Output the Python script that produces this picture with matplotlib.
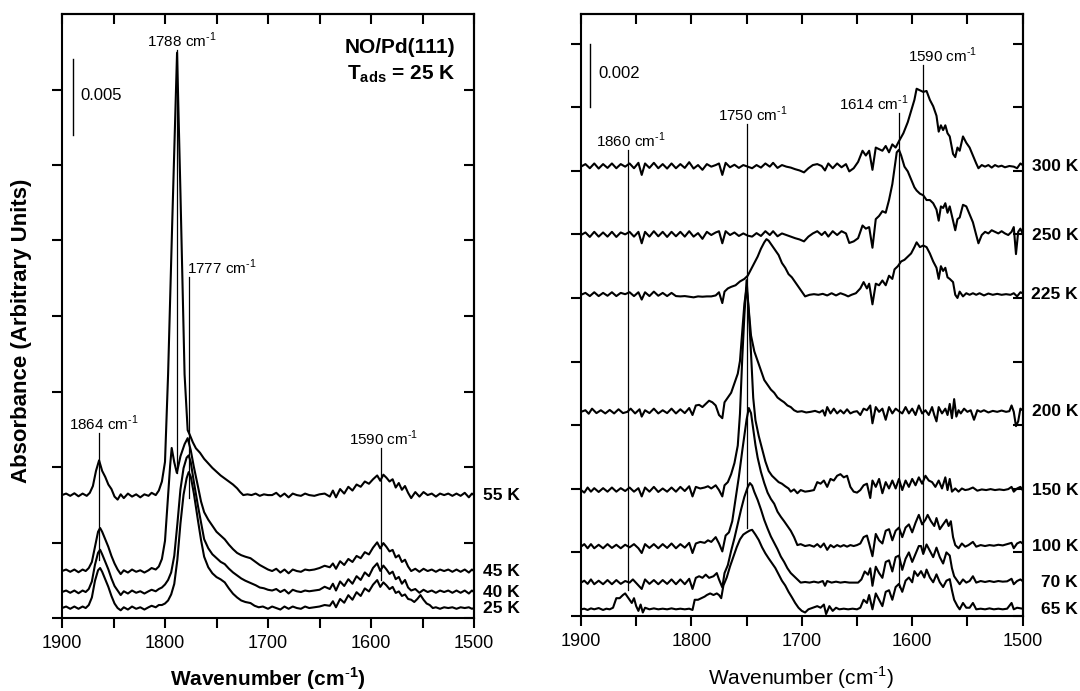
import numpy as np
import matplotlib
matplotlib.use("Agg")
from matplotlib import pyplot as plt

plt.rcParams['font.family'] = ['Liberation Sans', 'DejaVu Sans']
plt.rcParams['mathtext.fontset'] = 'custom'
plt.rcParams['mathtext.rm'] = 'Liberation Sans'
plt.rcParams['mathtext.bf'] = 'Liberation Sans:bold'

# ---- left panel: NO/Pd(111), Tads = 25 K (values in 1e-3 absorbance, relative to each baseline)
left_labels = ["55 K", "45 K", "40 K", "25 K"]
left_offsets = [8.14, 3.11, 1.72, 0.66]

k55 = [(1900,0.0),(1896,0.1),(1892,-0.05),(1888,0.12),(1884,-0.08),(1880,0.1),(1876,-0.05),(1873,0.15),
       (1870,0.6),(1867,1.6),(1864,2.3),(1861,1.6),(1858,1.2),(1855,0.7),(1852,0.4),(1849,-0.1),(1846,-0.3),(1843,0.05),
       (1840,-0.2),(1836,0.1),(1832,-0.1),(1828,0.05),(1824,-0.15),(1820,0.05),(1816,-0.05),(1813,0.15),(1809,0.0),(1806,0.3),
       (1803,0.9),(1800,2.2),(1797,8.0),(1793,18.0),(1788.3,29.3),(1785,20.0),(1781,8.0),(1778,4.3),(1776,4.0),(1773,3.5),
       (1770,3.1),(1766,2.8),(1762,2.4),(1758,2.1),(1754,1.8),(1750,1.55),(1746,1.3),(1742,1.1),(1738,0.9),(1734,0.7),
       (1730,0.45),(1727,0.2),(1724,0.0),(1720,0.05),(1716,0.0),(1712,0.1),(1708,-0.05),(1704,0.05),(1700,0.0),(1696,0.0),
       (1692,0.15),(1688,-0.1),(1684,0.1),(1680,-0.15),(1676,0.1),(1672,0.0),(1668,-0.05),(1664,0.1),(1660,0.0),(1655,-0.05),
       (1650,0.05),(1645,0.1),(1640,-0.1),(1637,0.3),(1634,-0.15),(1630,0.4),(1626,0.1),(1622,0.55),(1618,0.3),(1614,0.7),
       (1610,0.55),(1606,0.9),(1602,0.75),(1598,1.05),(1594,1.3),(1591,0.95),(1588,1.35),(1585,1.15),(1582,0.9),(1579,1.05),
       (1576,0.5),(1573,0.8),(1570,0.35),(1567,0.6),(1564,0.15),(1561,-0.2),(1557,0.2),(1553,-0.1),(1549,0.2),(1545,0.0),
       (1541,0.1),(1537,-0.1),(1533,0.1),(1529,0.0),(1525,0.1),(1521,-0.05),(1517,0.1),(1513,-0.05),(1509,0.15),(1505,-0.15),
       (1502,0.1),(1500,0.0)]

k45 = [(1900,0.0),(1896,0.1),(1892,-0.05),(1888,0.1),(1884,-0.08),(1880,0.1),(1877,0.0),(1874,0.2),(1871,0.6),(1868,1.6),
       (1865,2.6),(1863,2.85),(1861,2.6),(1858,2.1),(1855,1.6),(1852,1.0),(1849,0.5),(1846,0.1),(1843,-0.2),(1840,0.05),
       (1836,-0.1),(1832,0.1),(1828,-0.05),(1824,0.05),(1820,-0.1),(1816,0.05),(1813,0.2),(1809,0.1),(1806,0.3),(1803,0.8),
       (1800,2.0),(1797,5.0),(1795,7.0),(1793.5,8.15),(1791,7.2),(1788.5,6.5),(1785,7.6),(1781,8.4),(1778,8.8),(1775,8.0),
       (1772,6.9),(1768,5.6),(1765,4.6),(1762,3.9),(1758,3.4),(1754,3.0),(1750,2.6),(1746,2.35),(1742,2.1),(1738,1.75),
       (1734,1.45),(1730,1.2),(1726,1.05),(1722,0.95),(1717,0.85),(1712,0.6),(1708,0.4),(1704,0.25),(1700,0.1),(1696,0.0),
       (1692,0.15),(1688,-0.1),(1684,0.1),(1680,-0.15),(1676,0.1),(1672,0.0),(1668,-0.05),(1664,0.1),(1660,0.05),(1655,0.1),
       (1650,0.2),(1645,0.35),(1640,0.25),(1637,0.5),(1634,0.15),(1630,0.65),(1626,0.4),(1622,0.8),(1618,0.6),(1614,1.0),
       (1610,0.85),(1606,1.25),(1602,1.1),(1598,1.55),(1594,1.9),(1591,1.5),(1588,1.85),(1585,1.6),(1582,1.3),(1579,1.4),
       (1576,0.9),(1573,1.05),(1570,0.6),(1567,0.75),(1564,0.3),(1561,0.0),(1557,0.15),(1553,-0.05),(1549,0.15),(1545,0.0),
       (1541,0.1),(1537,-0.05),(1533,0.1),(1529,0.0),(1525,0.1),(1521,-0.05),(1517,0.1),(1513,-0.05),(1509,0.1),(1505,-0.1),
       (1502,0.1),(1500,0.0)]

k40 = [(1900,0.0),(1896,0.1),(1892,-0.05),(1888,0.1),(1884,-0.08),(1880,0.1),(1877,0.0),(1874,0.2),(1871,0.7),(1868,1.8),
       (1865,2.6),(1863,2.8),(1861,2.5),(1858,2.0),(1855,1.5),(1852,0.9),(1849,0.4),(1846,0.1),(1843,-0.2),(1840,0.05),
       (1836,-0.1),(1832,0.1),(1828,-0.05),(1824,0.05),(1820,-0.1),(1816,0.05),(1813,0.15),(1809,0.05),(1806,0.2),(1803,0.3),
       (1800,0.5),(1797,0.8),(1794,1.3),(1791,2.4),(1788,4.5),(1785,6.8),(1782,8.2),(1779,8.9),(1777,9.05),(1775,8.6),
       (1772,7.3),(1768,5.7),(1765,4.6),(1762,3.5),(1758,2.9),(1754,2.5),(1750,2.25),(1746,2.0),(1742,1.85),(1738,1.55),
       (1734,1.3),(1730,1.1),(1726,0.9),(1722,0.75),(1717,0.6),(1712,0.45),(1708,0.3),(1704,0.25),(1700,0.15),(1696,0.1),
       (1692,0.2),(1688,0.0),(1684,0.15),(1680,-0.1),(1676,0.15),(1672,0.05),(1668,0.0),(1664,0.1),(1660,0.05),(1655,0.1),
       (1650,0.15),(1645,0.35),(1640,0.2),(1637,0.55),(1634,0.1),(1630,0.7),(1626,0.4),(1622,0.85),(1618,0.55),(1614,1.05),
       (1610,0.8),(1606,1.3),(1602,1.05),(1598,1.6),(1594,1.9),(1591,1.4),(1588,1.75),(1585,1.5),(1582,1.2),(1579,1.35),
       (1576,0.85),(1573,1.0),(1570,0.55),(1567,0.8),(1564,0.3),(1561,0.1),(1557,0.2),(1553,-0.05),(1549,0.15),(1545,0.0),
       (1541,0.1),(1537,-0.05),(1533,0.1),(1529,0.0),(1525,0.1),(1521,-0.05),(1517,0.1),(1513,-0.05),(1509,0.1),(1505,-0.1),
       (1502,0.1),(1500,0.0)]

k25 = [(1900,0.0),(1896,0.1),(1892,-0.05),(1888,0.1),(1884,-0.05),(1880,0.1),(1877,0.0),(1874,0.2),(1871,0.7),(1868,1.8),
       (1865,2.5),(1863,2.65),(1861,2.4),(1858,1.9),(1855,1.4),(1852,0.8),(1849,0.3),(1846,0.0),(1843,-0.15),(1840,0.05),
       (1836,-0.1),(1832,0.1),(1828,-0.05),(1824,0.05),(1820,-0.1),(1816,0.05),(1813,0.15),(1809,0.05),(1806,0.2),(1803,0.2),
       (1800,0.3),(1797,0.5),(1794,0.9),(1791,1.6),(1788,3.2),(1785,5.6),(1782,7.5),(1779,8.6),(1777,9.0),(1775,8.7),
       (1772,7.6),(1768,5.8),(1765,4.5),(1762,3.4),(1758,2.7),(1754,2.3),(1750,2.05),(1746,1.9),(1742,1.7),(1738,1.3),
       (1734,0.95),(1730,0.7),(1726,0.5),(1722,0.4),(1717,0.33),(1713,0.15),(1709,0.05),(1705,0.1),(1700,-0.05),(1696,0.1),
       (1692,0.0),(1688,-0.1),(1684,0.1),(1680,-0.05),(1676,0.1),(1672,0.0),(1668,-0.05),(1664,0.1),(1660,0.0),(1655,0.05),
       (1650,0.1),(1645,0.2),(1640,0.15),(1637,0.45),(1634,0.05),(1630,0.6),(1626,0.35),(1622,0.85),(1618,0.55),(1614,1.05),
       (1610,0.8),(1606,1.3),(1602,1.1),(1598,1.55),(1594,1.85),(1591,1.4),(1588,1.7),(1585,1.5),(1582,1.25),(1579,1.4),
       (1576,1.0),(1573,1.1),(1570,0.8),(1567,0.9),(1564,0.6),(1561,0.55),(1558,0.4),(1555,0.6),(1552,0.86),(1549,0.55),
       (1546,0.3),(1543,0.2),(1540,0.0),(1537,0.05),(1533,-0.05),(1529,0.05),(1525,0.0),(1521,0.05),(1517,-0.05),(1513,0.05),
       (1509,0.0),(1505,0.05),(1502,-0.05),(1500,0.0)]

left_spectra = [k55, k45, k40, k25]

# peak markers: position, label, line top and bottom
left_mark_wn = [1864, 1788.3, 1777, 1590]
left_mark_text = [r"1864 cm$^{\text{-}1}$", r"1788 cm$^{\text{-}1}$", r"1777 cm$^{\text{-}1}$", r"1590 cm$^{\text{-}1}$"]
left_mark_top = [12.25, 37.6, 22.6, 11.25]
left_mark_bottom = [3.84, 9.6, 7.94, 2.5]

# ---- right panel: annealing series
right_labels = ["300 K", "250 K", "225 K", "200 K", "150 K", "100 K", "70 K", "65 K"]
right_offsets = [14.13, 11.98, 10.1, 6.42, 3.96, 2.18, 1.05, 0.21]

k300 = [(1900,0.0),(1896,0.08),(1892,-0.05),(1888,0.1),(1884,-0.06),(1880,0.08),(1876,-0.04),(1872,0.1),(1868,-0.05),(1864,0.08),
        (1860,0.0),(1856,0.1),(1852,-0.05),(1848,0.12),(1845,-0.26),(1842,0.1),(1838,-0.04),(1834,0.12),(1830,-0.05),(1826,0.08),
        (1822,-0.06),(1818,0.1),(1814,-0.05),(1810,0.08),(1806,-0.04),(1802,0.14),(1798,-0.06),(1794,0.05),(1790,-0.1),(1786,0.08),
        (1782,0.0),(1778,0.05),(1775,0.1),(1772,-0.26),(1769,0.12),(1765,-0.02),(1761,0.06),(1757,-0.04),(1753,0.05),(1749,0.0),
        (1745,-0.05),(1741,0.05),(1737,-0.03),(1733,0.1),(1729,0.0),(1726,0.12),(1722,-0.04),(1718,0.05),(1714,0.0),(1710,-0.03),
        (1706,-0.08),(1702,-0.12),(1698,-0.18),(1694,-0.05),(1690,0.05),(1686,0.08),(1682,0.02),(1679,-0.12),(1676,0.1),(1672,-0.05),
        (1668,0.1),(1664,-0.02),(1660,0.08),(1657,-0.15),(1653,-0.05),(1649,0.15),(1645,0.5),(1642,0.35),(1639,0.5),(1636,-0.1),
        (1633,0.6),(1630,0.55),(1627,0.5),(1624,0.65),(1621,0.45),(1618,0.7),(1615,0.6),(1612,0.8),(1608,1.05),(1604,1.4),
        (1601,1.75),(1598,2.1),(1596,2.45),(1593,2.4),(1590,2.35),(1587,2.38),(1584,2.1),(1581,1.9),(1578,1.6),(1576,1.1),
        (1574,1.3),(1572,1.15),(1570,1.3),(1568,1.05),(1566,0.95),(1563,0.4),(1561,0.3),(1559,0.6),(1557,0.5),(1554,0.95),
        (1551,0.75),(1548,0.6),(1545,0.35),(1542,0.1),(1540,-0.05),(1537,0.05),(1534,0.0),(1531,0.05),(1528,-0.03),(1525,0.05),
        (1522,0.0),(1519,0.03),(1516,-0.02),(1512,0.02),(1508,0.0),(1505,-0.05),(1502,0.1),(1500,0.05)]

k250 = [(1900,0.0),(1896,0.08),(1892,-0.06),(1888,0.1),(1884,-0.05),(1880,0.08),(1876,-0.05),(1872,0.1),(1868,-0.06),(1864,0.08),
        (1860,0.02),(1856,0.1),(1852,-0.05),(1848,0.1),(1845,-0.26),(1842,0.1),(1838,-0.05),(1834,0.12),(1830,-0.04),(1826,0.1),
        (1822,-0.06),(1818,0.1),(1814,-0.04),(1810,0.1),(1806,-0.05),(1802,0.12),(1798,-0.05),(1794,0.06),(1790,-0.12),(1786,0.1),
        (1782,0.0),(1778,0.08),(1775,0.12),(1772,-0.26),(1769,0.12),(1765,0.0),(1761,0.08),(1757,-0.03),(1753,0.05),(1749,-0.02),
        (1745,-0.05),(1741,0.06),(1737,-0.03),(1733,0.12),(1729,0.0),(1726,0.12),(1722,-0.04),(1718,0.05),(1714,0.0),(1710,-0.05),
        (1706,-0.1),(1702,-0.14),(1698,-0.2),(1694,-0.05),(1690,0.05),(1686,0.12),(1682,0.0),(1679,0.1),(1676,-0.05),(1672,0.12),
        (1668,0.0),(1664,0.12),(1660,0.05),(1657,-0.25),(1653,-0.2),(1649,-0.1),(1645,0.3),(1642,0.2),(1639,0.25),(1636,-0.4),
        (1633,0.5),(1630,0.6),(1627,0.75),(1624,0.7),(1621,1.1),(1618,1.6),(1616,2.1),(1614,2.6),(1612,2.68),(1610,2.5),
        (1607,2.15),(1604,2.0),(1601,1.75),(1598,1.5),(1596,1.4),(1593,1.3),(1590,1.25),(1587,1.1),(1584,1.1),(1581,1.0),
        (1578,0.8),(1576,0.45),(1574,0.9),(1572,0.85),(1570,1.0),(1568,0.7),(1566,0.9),(1563,0.45),(1561,0.15),(1559,0.5),
        (1557,0.55),(1554,0.95),(1551,0.9),(1548,0.65),(1545,0.4),(1542,0.0),(1540,-0.26),(1537,0.0),(1534,0.1),(1531,0.05),
        (1528,0.15),(1525,0.1),(1522,0.05),(1519,0.12),(1516,0.05),(1513,0.0),(1510,0.1),(1508,0.25),(1506,-0.6),(1504,0.1),
        (1502,0.2),(1500,0.05)]

k225 = [(1900,0.0),(1896,0.06),(1892,-0.04),(1888,0.08),(1884,-0.04),(1880,0.06),(1876,-0.03),(1872,0.08),(1868,-0.04),(1864,0.06),
        (1860,0.02),(1856,0.08),(1852,-0.04),(1848,0.08),(1845,-0.15),(1842,0.08),(1838,-0.04),(1834,0.1),(1830,-0.03),(1826,0.06),
        (1822,-0.04),(1818,0.06),(1814,-0.04),(1810,-0.05),(1806,-0.04),(1802,-0.06),(1798,-0.08),(1794,-0.05),(1790,-0.06),(1786,-0.05),
        (1782,-0.05),(1778,-0.02),(1775,0.08),(1772,-0.26),(1770,0.1),(1767,0.2),(1764,0.25),(1760,0.3),(1756,0.42),(1752,0.5),
        (1749,0.6),(1746,0.8),(1743,1.0),(1740,1.2),(1737,1.45),(1734,1.65),(1732,1.75),(1730,1.7),(1727,1.55),(1724,1.4),
        (1721,1.25),(1718,1.0),(1715,0.85),(1712,0.65),(1709,0.55),(1706,0.4),(1703,0.25),(1700,0.1),(1697,-0.05),(1693,0.0),
        (1689,0.02),(1685,0.0),(1681,0.03),(1677,-0.02),(1673,0.05),(1669,-0.02),(1665,0.05),(1661,0.0),(1658,-0.05),(1655,0.0),
        (1651,0.05),(1647,0.2),(1644,0.4),(1641,0.2),(1639,0.35),(1636,-0.3),(1633,0.35),(1630,0.3),(1627,0.45),(1624,0.3),
        (1621,0.6),(1618,0.5),(1616,0.8),(1613,0.9),(1610,1.05),(1607,1.1),(1604,1.2),(1601,1.3),(1598,1.5),(1596,1.65),
        (1593,1.5),(1590,1.55),(1587,1.5),(1584,1.3),(1581,1.05),(1578,0.85),(1576,0.5),(1574,0.9),(1572,0.75),(1570,0.85),
        (1568,0.55),(1566,0.5),(1563,0.4),(1561,0.0),(1559,-0.1),(1557,0.1),(1554,-0.05),(1551,0.05),(1548,0.0),(1545,0.05),
        (1542,0.0),(1539,0.05),(1535,-0.02),(1531,0.04),(1527,0.0),(1523,0.03),(1519,0.0),(1515,0.02),(1511,0.0),(1508,0.05),
        (1505,-0.05),(1502,0.08),(1500,0.05)]

k200 = [(1900,0.0),(1896,0.05),(1893,-0.06),(1890,0.1),(1886,-0.04),(1882,0.05),(1878,-0.05),(1874,0.06),(1870,-0.05),(1866,0.08),
        (1862,-0.04),(1858,0.0),(1855,0.1),(1851,-0.05),(1847,0.08),(1845,-0.15),(1842,0.05),(1838,-0.04),(1834,0.1),(1830,-0.05),
        (1826,0.05),(1822,-0.04),(1818,0.1),(1814,-0.05),(1810,0.08),(1806,-0.04),(1802,0.12),(1799,-0.1),(1796,0.2),(1793,0.22),
        (1790,0.15),(1787,0.25),(1784,0.35),(1781,0.3),(1778,0.2),(1775,-0.1),(1772,-0.2),(1770,0.3),(1767,0.45),(1764,0.6),
        (1761,0.9),(1758,1.2),(1756,1.6),(1754,2.5),(1752,3.4),(1750,3.9),(1748,3.2),(1746,2.4),(1743,1.9),(1740,1.6),
        (1737,1.3),(1734,1.0),(1731,0.85),(1728,0.7),(1725,0.6),(1722,0.45),(1719,0.37),(1716,0.3),(1713,0.2),(1710,0.15),
        (1707,0.05),(1704,0.0),(1700,0.02),(1696,-0.02),(1692,0.0),(1688,0.03),(1684,-0.02),(1681,0.05),(1679,-0.12),(1677,0.15),
        (1674,-0.05),(1671,0.1),(1668,-0.05),(1665,0.05),(1662,-0.05),(1659,0.08),(1656,-0.05),(1653,0.0),(1650,0.02),(1647,-0.1),
        (1644,0.1),(1641,0.05),(1638,0.2),(1636,-0.36),(1633,0.15),(1630,0.0),(1627,0.1),(1624,-0.25),(1621,0.15),(1618,-0.05),
        (1615,0.1),(1612,0.02),(1609,-0.05),(1606,0.15),(1603,-0.05),(1600,0.1),(1597,-0.1),(1594,0.2),(1591,-0.05),(1588,0.05),
        (1585,-0.1),(1582,0.15),(1580,-0.1),(1578,-0.3),(1576,0.15),(1573,-0.05),(1570,0.1),(1568,-0.1),(1566,0.25),(1564,-0.2),
        (1562,0.4),(1560,-0.15),(1558,0.05),(1556,-0.05),(1553,0.1),(1550,0.0),(1547,0.05),(1544,-0.25),(1541,0.05),(1538,0.0),
        (1535,0.05),(1531,-0.02),(1527,0.03),(1523,0.0),(1519,0.04),(1515,0.0),(1512,0.02),(1510,0.2),(1508,0.0),(1506,-0.45),
        (1504,-0.3),(1502,0.1),(1500,0.05)]

k150 = [(1900,0.0),(1897,-0.08),(1894,0.08),(1891,-0.05),(1888,0.06),(1884,-0.06),(1880,0.06),(1876,-0.05),(1872,0.08),(1868,-0.05),
        (1864,0.06),(1860,-0.03),(1856,0.08),(1852,-0.05),(1848,0.06),(1845,-0.2),(1842,0.08),(1838,-0.05),(1834,0.1),(1830,-0.06),
        (1826,0.05),(1822,-0.05),(1818,0.08),(1814,-0.05),(1810,0.1),(1806,-0.03),(1802,0.12),(1799,-0.2),(1796,0.1),(1792,0.05),
        (1788,0.08),(1785,0.12),(1782,0.05),(1778,0.15),(1775,0.0),(1772,-0.2),(1770,0.15),(1767,0.25),(1764,0.5),(1761,0.85),
        (1758,1.4),(1756,2.4),(1754,4.1),(1752,5.5),(1750,6.6),(1748,5.6),(1746,4.3),(1744,2.9),(1742,2.2),(1739,1.7),
        (1736,1.3),(1733,0.9),(1730,0.6),(1727,0.45),(1724,0.35),(1721,0.25),(1718,0.2),(1715,0.12),(1712,0.05),(1710,-0.05),
        (1707,0.02),(1704,-0.1),(1701,0.0),(1697,-0.05),(1693,-0.03),(1689,0.0),(1686,0.25),(1683,0.2),(1680,0.3),(1677,0.1),
        (1674,0.35),(1671,0.3),(1668,0.45),(1665,0.5),(1662,0.4),(1659,0.45),(1656,0.1),(1653,-0.05),(1650,-0.08),(1647,0.0),
        (1644,0.15),(1641,0.2),(1638,-0.25),(1636,0.3),(1633,0.1),(1630,0.35),(1627,-0.1),(1624,0.25),(1621,0.05),(1618,0.3),
        (1615,0.05),(1612,0.35),(1609,0.0),(1606,0.3),(1603,0.1),(1600,0.35),(1597,0.15),(1594,0.4),(1591,0.2),(1588,0.45),
        (1585,0.3),(1582,0.25),(1579,0.1),(1576,0.3),(1573,0.05),(1570,0.4),(1568,0.0),(1566,0.35),(1564,-0.05),(1561,0.05),
        (1558,-0.05),(1555,0.05),(1552,0.0),(1549,0.02),(1545,0.08),(1541,-0.02),(1537,0.02),(1533,0.0),(1529,0.03),(1525,0.0),
        (1521,0.02),(1517,0.0),(1513,0.03),(1510,0.1),(1508,-0.05),(1505,0.05),(1502,0.1),(1500,0.0)]

k100 = [(1900,0.0),(1897,0.08),(1894,-0.05),(1891,0.08),(1888,-0.05),(1884,0.06),(1880,-0.05),(1876,0.08),(1872,-0.04),(1868,0.06),
        (1864,-0.05),(1860,0.06),(1856,-0.02),(1852,0.08),(1848,-0.05),(1845,-0.2),(1842,0.08),(1838,-0.04),(1834,0.08),(1830,-0.05),
        (1826,0.08),(1822,-0.04),(1818,0.1),(1814,-0.05),(1810,0.08),(1806,-0.03),(1802,0.12),(1799,-0.2),(1796,0.1),(1792,0.15),
        (1788,0.12),(1785,0.2),(1782,0.15),(1778,0.3),(1775,0.1),(1772,-0.15),(1769,0.35),(1766,0.45),(1763,0.8),(1760,1.5),
        (1757,2.2),(1754,3.0),(1752,3.5),(1750,4.0),(1748,4.36),(1746,4.2),(1744,3.7),(1742,3.2),(1740,2.8),(1737,2.35),
        (1734,2.0),(1731,1.7),(1728,1.5),(1725,1.35),(1722,1.1),(1719,0.94),(1716,0.8),(1713,0.65),(1710,0.5),(1707,0.3),
        (1704,0.05),(1701,0.08),(1697,0.02),(1693,0.05),(1689,0.0),(1686,0.08),(1683,-0.02),(1680,0.1),(1677,-0.1),(1674,0.05),
        (1671,-0.02),(1668,0.05),(1665,0.0),(1662,0.05),(1659,0.0),(1656,0.05),(1653,0.02),(1650,0.05),(1647,0.1),(1644,0.3),
        (1641,0.35),(1639,0.1),(1636,-0.3),(1633,0.4),(1630,0.2),(1627,0.1),(1624,0.5),(1621,0.55),(1618,0.2),(1615,0.5),
        (1612,0.6),(1609,0.3),(1606,0.6),(1603,0.7),(1600,0.45),(1597,0.75),(1594,1.0),(1591,0.7),(1588,0.85),(1586,1.0),
        (1583,0.8),(1580,0.65),(1578,0.9),(1575,0.55),(1572,0.7),(1569,0.85),(1567,0.65),(1565,0.8),(1563,0.3),(1561,0.05),
        (1558,-0.05),(1555,0.1),(1552,0.0),(1549,0.05),(1545,0.15),(1542,0.0),(1538,0.05),(1534,0.02),(1530,0.05),(1526,0.03),
        (1522,0.06),(1518,0.04),(1514,0.08),(1510,0.12),(1508,-0.05),(1505,0.1),(1502,0.15),(1500,0.1)]

k70 = [(1900,0.0),(1897,0.06),(1894,-0.04),(1891,0.1),(1888,-0.05),(1884,0.06),(1880,-0.05),(1876,0.08),(1872,-0.05),(1868,0.08),
       (1864,-0.04),(1860,0.05),(1856,0.0),(1853,0.1),(1849,-0.05),(1845,-0.2),(1842,0.1),(1838,-0.04),(1834,0.08),(1830,-0.05),
       (1826,0.08),(1822,-0.04),(1818,0.1),(1814,-0.05),(1810,0.1),(1806,-0.05),(1802,0.12),(1799,-0.2),(1796,0.15),(1793,0.2),
       (1790,0.15),(1787,0.25),(1784,0.15),(1780,0.2),(1777,0.3),(1775,0.1),(1772,-0.15),(1770,0.3),(1767,0.55),(1764,1.0),
       (1761,1.4),(1758,1.85),(1755,2.3),(1752,2.7),(1749,3.0),(1747,3.13),(1745,3.05),(1743,2.85),(1740,2.6),(1737,2.3),
       (1734,1.97),(1731,1.7),(1728,1.45),(1725,1.25),(1722,1.05),(1719,0.82),(1716,0.65),(1713,0.45),(1710,0.3),(1707,0.2),
       (1704,0.1),(1701,0.0),(1697,0.02),(1693,0.0),(1689,0.03),(1685,0.0),(1681,0.05),(1679,-0.1),(1677,0.05),(1673,0.0),
       (1669,0.03),(1665,0.0),(1661,0.02),(1657,0.0),(1653,0.0),(1649,0.0),(1646,0.1),(1643,0.35),(1640,0.25),(1638,0.45),
       (1636,-0.1),(1633,0.5),(1630,0.3),(1627,0.15),(1624,0.65),(1621,0.7),(1618,0.35),(1615,0.8),(1612,0.85),(1609,0.4),
       (1606,0.75),(1603,0.95),(1600,0.65),(1597,0.9),(1594,1.15),(1592,1.15),(1590,0.9),(1587,1.2),(1584,1.0),(1581,0.8),
       (1578,1.1),(1575,0.8),(1572,0.6),(1569,0.95),(1566,0.85),(1564,0.45),(1562,0.2),(1559,0.05),(1557,-0.05),(1554,0.1),
       (1551,0.0),(1548,0.05),(1545,0.2),(1542,0.0),(1538,0.05),(1534,0.02),(1530,0.05),(1526,0.02),(1522,0.05),(1518,0.03),
       (1514,0.04),(1510,0.12),(1508,-0.05),(1505,0.05),(1502,0.1),(1500,0.05)]

k65 = [(1900,0.0),(1897,0.02),(1894,-0.02),(1891,0.03),(1888,0.0),(1884,0.04),(1880,-0.02),(1877,0.02),(1874,0.0),(1871,0.05),
       (1868,0.35),(1865,0.35),(1862,0.45),(1860,0.5),(1858,0.4),(1856,0.3),(1854,0.2),(1852,0.35),(1850,0.1),(1848,-0.05),
       (1846,0.15),(1844,-0.1),(1842,0.05),(1838,0.0),(1834,0.03),(1830,0.0),(1826,0.02),(1822,0.0),(1818,0.03),(1814,0.0),
       (1810,0.02),(1806,0.0),(1802,0.02),(1799,-0.02),(1797,0.3),(1794,0.3),(1791,0.35),(1788,0.4),(1786,0.45),(1783,0.5),
       (1780,0.45),(1777,0.5),(1775,0.45),(1773,0.35),(1771,0.75),(1768,1.0),(1765,1.35),(1762,1.65),(1759,1.95),(1756,2.2),
       (1753,2.35),(1750,2.42),(1747,2.48),(1745,2.5),(1742,2.35),(1739,2.18),(1736,1.95),(1733,1.76),(1730,1.6),(1727,1.45),
       (1724,1.3),(1721,1.1),(1718,0.9),(1715,0.75),(1712,0.55),(1709,0.38),(1706,0.2),(1703,0.05),(1700,-0.05),(1697,-0.1),
       (1694,0.0),(1690,0.05),(1686,0.1),(1683,0.05),(1680,0.15),(1678,-0.15),(1675,0.1),(1672,-0.05),(1669,0.05),(1666,0.0),
       (1662,0.02),(1658,0.0),(1654,0.02),(1650,0.0),(1647,0.05),(1644,0.3),(1641,0.2),(1639,0.45),(1636,0.0),(1633,0.5),
       (1630,0.3),(1627,0.1),(1624,0.55),(1621,0.6),(1618,0.3),(1615,0.7),(1612,0.8),(1609,0.55),(1606,0.9),(1603,1.0),
       (1600,0.85),(1598,1.2),(1595,1.05),(1592,1.2),(1589,1.0),(1587,1.25),(1584,1.0),(1581,0.85),(1578,1.1),(1575,0.85),
       (1572,0.7),(1569,0.9),(1566,0.95),(1564,0.6),(1562,0.3),(1559,0.1),(1557,0.0),(1554,0.2),(1551,0.05),(1548,0.05),
       (1545,0.2),(1542,0.0),(1538,0.02),(1534,0.0),(1530,0.03),(1526,0.0),(1522,0.02),(1518,0.0),(1514,0.02),(1510,0.2),
       (1508,0.0),(1505,0.05),(1502,0.03),(1500,0.02)]

right_spectra = [k300, k250, k225, k200, k150, k100, k70, k65]

right_mark_wn = [1857.5, 1749.7, 1612.3, 1590.6]
right_mark_text = [r"1860 cm$^{\text{-}1}$", r"1750 cm$^{\text{-}1}$", r"1614 cm$^{\text{-}1}$", r"1590 cm$^{\text{-}1}$"]
right_mark_top = [14.66, 15.47, 15.82, 17.33]
right_mark_bottom = [0.82, 2.77, 0.91, 2.08]


def setup_axes(ax, ymax, ystep):
    # x axis reversed, ticks every 50, labels every 100
    xt = np.arange(1500, 1901, 50)
    ax.set_xlim(1900, 1500)
    ax.set_ylim(0, ymax)
    ax.set_xticks(xt)
    ax.set_xticklabels([str(v) if v % 100 == 0 else "" for v in xt])
    ax.set_yticks(np.arange(0, ymax, ystep))
    ax.set_yticklabels([])
    ax.tick_params(direction="out", length=7, width=1.5, labelsize=13, pad=5)
    for s in ax.spines.values():
        s.set_linewidth(1.5)
    # inward ticks on top and right
    top = ax.secondary_xaxis("top")
    top.set_xticks(xt)
    top.set_xticklabels([])
    top.tick_params(direction="in", length=7, width=1.5)
    top.spines["top"].set_linewidth(1.5)
    right = ax.secondary_yaxis("right")
    right.set_yticks(np.arange(0, ymax, ystep))
    right.set_yticklabels([])
    right.tick_params(direction="in", length=7, width=1.5)
    right.spines["right"].set_linewidth(1.5)


def draw_traces(ax, spectra, offsets, labels, label_x, label_ha):
    for spec, off, lab in zip(spectra, offsets, labels):
        wn, val = np.array(spec).T
        ax.plot(wn, val + off, color="black", lw=1.5)
        ax.text(label_x, off, lab, transform=ax.get_yaxis_transform(), ha=label_ha,
                va="center", fontsize=12.5, fontweight="bold", clip_on=False)


def draw_marks(ax, wns, texts, tops, bottoms, dx):
    for wn, txt, t, b, d in zip(wns, texts, tops, bottoms, dx):
        ax.plot([wn, wn], [b, t], color="black", lw=0.9)
        ax.annotate(txt, (wn, t), xytext=(d, 0), textcoords="offset pixels",
                    ha="center", va="bottom", fontsize=11)


fig = plt.figure(figsize=(10.8, 6.91), dpi=100)
ax1 = fig.add_axes([62 / 1080, 73 / 691, 412 / 1080, 604 / 691])
ax2 = fig.add_axes([581 / 1080, 75 / 691, 441.6 / 1080, 602 / 691])

# left panel
setup_axes(ax1, 40.0, 5.0)
draw_traces(ax1, left_spectra, left_offsets, left_labels, 1.022, "left")
draw_marks(ax1, left_mark_wn, left_mark_text, left_mark_top, left_mark_bottom, [5, 5, 33, 2])
ax1.plot([1889, 1889], [32.0, 37.0], color="black", lw=1.0)
ax1.text(1882.5, 34.6, "0.005", ha="left", va="center", fontsize=12)
ax1.text(0.954, 0.935, "NO/Pd(111)", transform=ax1.transAxes, ha="right", va="baseline",
         fontsize=15, fontweight="bold")
ax1.text(0.954, 0.891, r"T$_{\mathbf{ads}}$ = 25 K", transform=ax1.transAxes, ha="right",
         va="baseline", fontsize=15, fontweight="bold")

# right panel
setup_axes(ax2, 18.93, 2.0)
draw_traces(ax2, right_spectra, right_offsets, right_labels, 1.1255, "right")
draw_marks(ax2, right_mark_wn, right_mark_text, right_mark_top, right_mark_bottom, [3, 6, -25, 20])
ax2.plot([1891.6, 1891.6], [16.0, 18.0], color="black", lw=1.0)
ax2.text(1884.3, 17.05, "0.002", ha="left", va="center", fontsize=12)

# axis titles
fig.text(22 / 1080, 1 - 331 / 691, "Absorbance (Arbitrary Units)", rotation=90,
         ha="center", va="center", fontsize=16, fontweight="bold")
fig.text(268 / 1080, 0.008, r"Wavenumber (cm$^{\mathbf{\text{-}1}}$)", ha="center", va="baseline",
         fontsize=15, fontweight="bold")
fig.text(801 / 1080, 0.009, r"Wavenumber (cm$^{\text{-}1}$)", ha="center", va="baseline", fontsize=15)

fig.savefig("out.png", dpi=100)
